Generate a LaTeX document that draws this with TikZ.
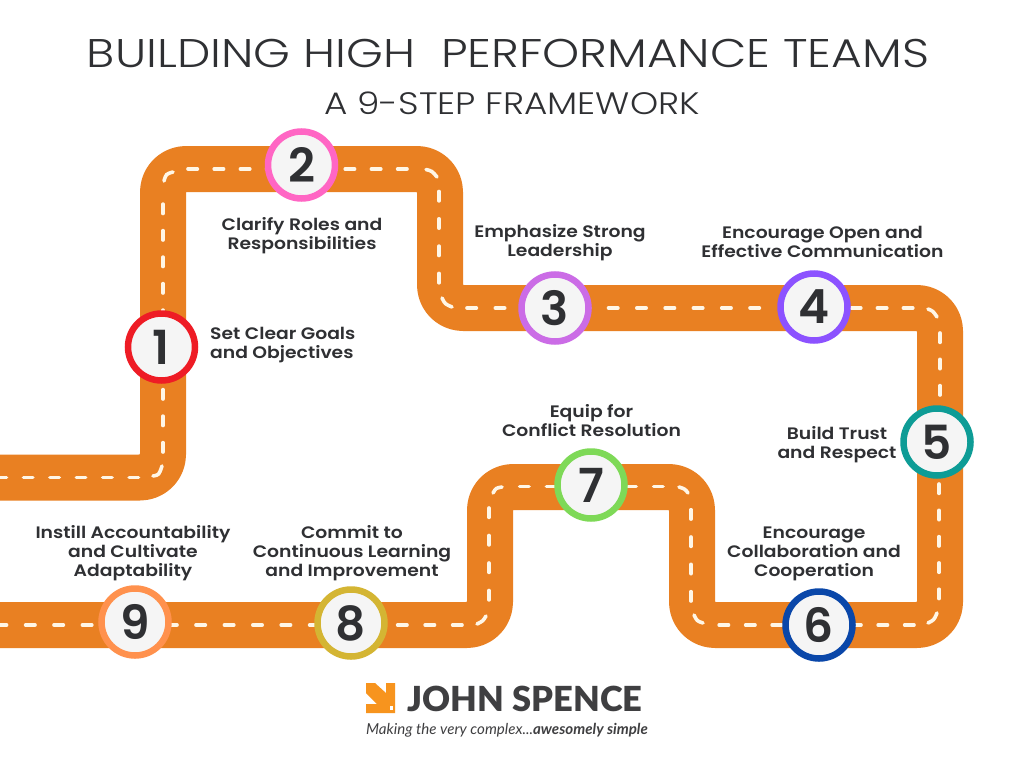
\documentclass[tikz,border=0pt]{standalone}
\usepackage{fontspec}
\setmainfont{Poppins}[UprightFont=* SemiBold,BoldFont=* SemiBold,FakeStretch=1.13]
\newfontfamily\numfont{Poppins}[UprightFont=* SemiBold]
\newfontfamily\titlefont{Poppins Light}[FakeStretch=1.18]
\newfontfamily\subfont{Poppins Light}[FakeStretch=1.155]
\newfontfamily\logofont{Lato}[UprightFont=* Black]
\newfontfamily\tagfont{Lato}
\definecolor{road}{HTML}{E98022}
\definecolor{ink}{HTML}{2F3033}
\definecolor{dashc}{HTML}{FFF6E6}
\definecolor{cOne}{HTML}{EE1C25}
\definecolor{cTwo}{HTML}{FF66C4}
\definecolor{cThree}{HTML}{CB6CE6}
\definecolor{cFour}{HTML}{8C52FF}
\definecolor{cFive}{HTML}{0E9C96}
\definecolor{cSix}{HTML}{0A47A9}
\definecolor{cSeven}{HTML}{7ED957}
\definecolor{cEight}{HTML}{D4B533}
\definecolor{cNine}{HTML}{FF914D}
\definecolor{logoor}{HTML}{F7941E}
\definecolor{logoink}{HTML}{3F3F41}
\tikzset{x=1pt,y=-1pt,
 roadline/.style={draw=road,line width=46pt,rounded corners=23pt,line join=round},
 dashes/.style={draw=dashc,line width=3.6pt,line cap=round,dash pattern=on 9.4pt off #1pt},
 arcdash/.style={draw=dashc,line width=3.6pt,line cap=round},
 stepc/.style={circle,draw=#1,line width=6.5pt,fill=black!4,minimum size=67pt,inner sep=0pt,font=\numfont\fontsize{47}{47}\selectfont,text=ink},
 lab/.style={align=center,font=\fontsize{16.6}{19}\selectfont,text=ink,inner sep=0pt},
}
\begin{document}
\begin{tikzpicture}
\useasboundingbox (0,0) rectangle (1024,768);
\fill[white] (0,0) rectangle (1024,768);
\draw[roadline] (0,477.5) -- (163,477.5) -- (163,169) -- (440,169) -- (440,308) -- (940,308) -- (940,625) -- (692,625) -- (692,487) -- (490,487) -- (490,625) -- (0,625);
% dashes
\draw[dashes=17] (138.5,477.5) -- (0,477.5);
\draw[dashes=17.1] (163,452) -- (163,195);
\draw[dashes=16.8] (188,169) -- (412,169);
\draw[dashes=17.9] (439,191.5) -- (439,286);
\draw[dashes=18.9] (467,308) -- (765,308);
\draw[dashes=16.6] (851.4,308) -- (915,308);
\draw[dashes=16.9] (940,333) -- (940,398);
\draw[dashes=16.9] (939,484) -- (939,600);
\draw[dashes=17.1] (914,625) -- (718,625);
\draw[dashes=17.9] (691,601) -- (691,508);
\draw[dashes=17.4] (663,486.5) -- (517,486.5);
\draw[dashes=18.1] (489,508) -- (489,602);
\draw[dashes=18.1] (462,625) -- (395,625);
\draw[dashes=19] (319,625) -- (0,625);
\draw[arcdash] (153,476) .. controls (159,475) .. (162,466);
\draw[arcdash] (164,181) .. controls (166,174) .. (173,172);
\draw[arcdash] (426,169.5) .. controls (432,171) .. (437,177);
\draw[arcdash] (442,298) .. controls (445,304) .. (452,307);
\draw[arcdash] (928,309) .. controls (933,311) .. (937,317);
\draw[arcdash] (937,613) .. controls (934,620) .. (928,623);
\draw[arcdash] (703,623) .. controls (697,621) .. (694,615);
\draw[arcdash] (688,493) .. controls (685,489) .. (679,487);
\draw[arcdash] (502,487) .. controls (496,488) .. (493,493);
\draw[arcdash] (486,616) .. controls (483,621) .. (477,624);
% titles
\node[font=\titlefont\fontsize{40}{40}\selectfont,text=ink,inner sep=0pt] (title) at (508,53) {BUILDING HIGH\ \ PERFORMANCE TEAMS};
\node[font=\subfont\fontsize{31}{31}\selectfont,text=ink,inner sep=0pt] (subtitle) at (512,103) {A 9-STEP FRAMEWORK};
% steps
\node[stepc=cOne] (s1) at (161.5,347) {1};
\node[stepc=cTwo] (s2) at (301.5,165) {2};
\node[stepc=cThree] (s3) at (555,308) {3};
\node[stepc=cFour] (s4) at (814,307) {4};
\node[stepc=cFive] (s5) at (937,442) {5};
\node[stepc=cSix] (s6) at (819,625) {6};
\node[stepc=cSeven] (s7) at (591,485) {7};
\node[stepc=cEight] (s8) at (351,623) {8};
\node[stepc=cNine] (s9) at (135,622) {9};
% labels
\node[lab,align=left,anchor=west] (l1) at (210,345) {Set Clear Goals\\and Objectives};
\node[lab] (l2) at (302,236) {Clarify Roles and\\Responsibilities};
\node[lab] (l3) at (560,242.5) {Emphasize Strong\\Leadership};
\node[lab] (l4) at (822.5,241.5) {Encourage Open and\\Effective Communication};
\node[lab] (l5) at (837,444.5) {Build Trust\\and Respect};
\node[lab] (l6) at (814,554) {Encourage\\Collaboration and\\Cooperation};
\node[lab] (l7) at (591.5,420.5) {Equip for\\Conflict Resolution};
\node[lab] (l8) at (352,553) {Commit to\\Continuous Learning\\and Improvement};
\node[lab] (l9) at (133,553) {Instill Accountability\\and Cultivate\\Adaptability};
% logo
\fill[logoor] (366,683) -- (375,683) -- (386,693) -- (386,683) -- (395,683) -- (395,713) -- (366,713) -- (366,704) -- (377,704) -- (366,693) -- cycle;
\fill[white] (389.5,706) rectangle (392.5,710);
\node[font=\logofont\fontsize{34.5}{34.5}\selectfont,text=logoink,inner sep=0pt] (logo) at (525,699) {JOHN SPENCE};
\node[font=\tagfont\itshape\fontsize{15.1}{15.1}\selectfont,text=logoink,inner sep=0pt] (tag) at (507,730) {Making the very complex...{\bfseries awesomely simple}};
\end{tikzpicture}
\end{document}
